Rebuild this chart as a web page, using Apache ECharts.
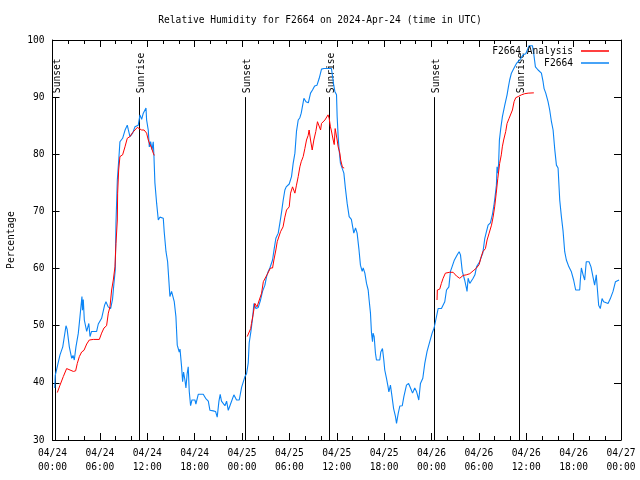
<!DOCTYPE html>
<html>
<head>
<meta charset="utf-8">
<script src="https://cdn.jsdelivr.net/npm/echarts@6/dist/echarts.min.js"></script>
<style>html,body{margin:0;padding:0;background:#fff}#c{width:640px;height:480px}</style>
</head>
<body>
<div id="c"></div>
<script>
// Hours since 2024-04-24 00:00 UTC
const xTickLabels = ['04/24\n00:00','04/24\n06:00','04/24\n12:00','04/24\n18:00','04/25\n00:00','04/25\n06:00','04/25\n12:00','04/25\n18:00','04/26\n00:00','04/26\n06:00','04/26\n12:00','04/26\n18:00','04/27\n00:00'];

const stationHours = [0.28,0.35,0.95,1.3,1.71,1.85,2.13,2.43,2.6,2.76,2.97,3.27,3.48,3.73,3.8,3.9,4.03,4.33,4.6,4.75,4.95,5.59,5.8,6.22,6.6,6.77,7.05,7.36,7.6,7.78,7.95,8.04,8.21,8.42,8.54,8.88,9.18,9.47,9.6,9.81,10.15,10.44,10.86,11.08,11.29,11.5,11.71,11.84,11.92,12.13,12.26,12.43,12.6,12.76,12.85,12.97,13.19,13.4,13.6,14.03,14.15,14.37,14.58,14.79,14.87,15.08,15.29,15.42,15.63,15.8,16.05,16.15,16.35,16.48,16.6,16.77,16.9,17.05,17.19,17.32,17.49,17.66,17.85,18.04,18.16,18.46,19.09,19.39,19.73,19.94,20.15,20.36,20.65,20.86,21.08,21.24,21.4,21.84,22.05,22.26,22.47,22.97,23.31,23.65,23.95,24.37,24.58,24.79,24.91,25.13,25.34,25.51,25.76,26.06,26.35,26.6,26.9,27.11,27.32,27.53,27.87,28.08,28.29,28.59,28.8,29.0,29.22,29.43,29.6,29.98,30.27,30.48,30.7,30.9,31.12,31.33,31.5,31.84,32.1,32.4,32.68,32.93,33.2,33.5,33.78,34.07,34.37,35.33,35.55,35.63,35.76,35.97,36.05,36.18,36.3,36.47,36.7,36.9,37.1,37.32,37.57,37.66,37.85,38.16,38.38,38.58,38.8,39.0,39.22,39.35,39.56,39.77,39.98,40.1,40.27,40.4,40.53,40.6,40.74,40.9,41.03,41.45,41.58,41.79,41.96,42.08,42.3,42.5,42.6,42.8,43.0,43.2,43.44,43.57,43.78,43.99,44.3,44.5,44.83,45.1,45.34,45.6,45.88,46.1,46.39,46.6,46.9,47.15,47.44,47.78,48.08,48.33,48.54,48.84,49.26,49.47,49.68,49.9,50.2,50.4,50.6,50.87,51.08,51.3,51.5,51.67,51.9,52.0,52.2,52.43,52.5,52.64,52.85,53.06,53.27,53.5,53.7,53.9,54.1,54.32,54.5,54.75,54.96,55.17,55.46,55.72,55.9,56.05,56.22,56.3,56.4,56.5,56.6,56.77,56.98,57.28,57.57,57.74,57.9,58.12,58.42,58.76,59.18,59.6,59.94,60.36,60.78,60.95,61.16,61.5,61.92,62.13,62.26,62.47,62.76,62.97,63.19,63.4,63.6,63.82,64.03,64.24,64.45,64.66,64.87,65.08,65.4,65.7,66.0,66.26,66.77,66.85,66.98,67.2,67.4,67.6,67.95,68.2,68.45,68.66,68.87,69.0,69.17,69.38,69.6,69.8,70.05,70.36,70.65,70.99,71.3,71.75];
const stationRH = [39.1,41.3,44.9,46.3,50.0,49.4,46.3,44.3,44.8,44.0,46.3,48.7,51.6,55.1,52.7,54.6,51.0,49.0,50.4,48.1,49.0,49.0,50.3,51.3,53.6,54.2,53.3,53.0,54.6,57.4,59.8,68.0,75.5,79.6,82.2,82.8,84.2,85.1,84.3,83.1,83.7,84.8,85.1,86.9,86.1,87.2,87.5,88.1,86.0,84.2,81.3,82.2,80.8,82.2,79.6,75.0,71.4,68.5,69.0,68.8,66.4,63.0,61.2,56.8,55.1,56.0,56.0,54.2,51.6,46.6,45.4,45.9,42.8,40.2,41.9,40.5,39.1,41.6,42.8,38.5,36.0,37.0,36.8,37.0,36.3,38.0,38.0,37.3,36.8,35.2,35.5,35.1,35.0,34.0,36.8,38.0,36.8,36.0,36.8,35.2,36.0,37.9,37.0,37.0,39.2,41.1,41.6,43.5,47.0,49.0,51.3,53.9,53.0,53.2,54.5,56.0,57.1,58.6,59.5,60.1,61.5,63.5,65.3,66.2,68.0,69.8,72.0,73.75,74.3,74.8,76.1,78.4,80.2,84.0,86.0,86.4,87.2,89.8,89.2,89.0,90.7,91.25,91.95,92.1,93.3,94.9,95.0,95.0,95.0,92.0,91.0,90.4,86.6,83.1,80.75,78.4,78.2,76.7,74.0,71.4,69.1,68.8,68.6,66.2,67.1,66.2,63.5,60.6,59.5,60.1,59.2,57.4,56.25,54.5,52.2,48.7,47.2,48.7,48.1,45.2,44.0,44.0,45.4,46.0,44.0,42.25,40.8,39.3,38.4,39.6,37.6,35.5,34.1,32.9,34.6,35.95,36.0,37.6,39.6,39.9,39.1,38.2,39.1,38.5,37.0,39.9,40.8,43.4,45.5,47.2,48.7,49.6,51.0,53.0,53.0,53.0,54.2,56.25,56.8,59.5,60.3,61.4,61.5,62.5,62.95,62.4,59.5,59.8,58.0,56.55,56.0,58.3,57.4,57.7,58.3,58.9,60.3,60.3,61.2,62.1,62.7,65.3,66.45,67.6,68.0,69.5,71.0,72.6,74.6,77.8,76.7,78.4,82.5,84.5,86.6,88.6,90.4,91.8,93.0,94.2,95.0,95.9,96.5,97.4,97.6,99.0,99.0,97.6,95.3,94.75,94.2,92.7,91.5,90.7,89.2,87.75,85.7,84.25,81.0,78.1,77.6,72.0,69.1,66.6,62.95,61.5,60.3,59.5,58.0,56.25,56.25,58.0,60.1,58.9,58.0,61.2,61.2,60.3,60.1,57.1,58.9,56.55,53.6,53.0,54.75,54.2,53.9,53.9,54.75,56.0,57.7,58.0];

// Analysis: three separate runs (null = gap)
const analysisHours = [0.61,0.95,1.37,1.79,2.22,2.64,2.93,3.14,3.4,3.69,3.99,4.33,4.66,5.17,5.93,6.22,6.52,6.85,7.07,7.28,7.49,7.7,7.91,8.04,8.21,8.25,8.38,8.54,8.88,9.18,9.47,9.81,10.15,10.44,10.74,10.99,11.29,11.6,11.92,12.13,12.34,12.55,12.76,12.89,
  18.0,
  24.66,24.87,25.1,25.2,25.4,25.63,25.9,26.19,26.48,26.7,26.9,27.2,27.45,27.6,27.87,28.04,28.29,28.46,28.71,28.88,29.2,29.43,29.64,29.98,30.15,30.4,30.7,30.9,31.12,31.33,31.5,31.75,31.96,32.17,32.38,32.5,32.68,32.89,33.1,33.35,33.56,33.78,33.95,34.07,34.28,34.5,34.7,34.9,35.04,35.2,35.3,35.55,35.68,35.8,35.97,36.05,36.18,36.39,36.5,36.73,36.94,
  42.0,
  48.7,48.74,49.04,49.25,49.47,49.76,50.3,50.74,51.16,51.58,52.0,52.4,52.85,53.27,53.7,54.03,54.24,54.5,54.83,55.04,55.3,55.6,55.8,56.0,56.2,56.4,56.63,56.84,56.97,57.14,57.4,57.57,57.83,58.0,58.25,58.46,58.67,58.97,59.39,59.8,60.24,60.96];
const analysisRH = [38.3,39.6,41.1,42.5,42.25,42.0,42.1,43.4,44.6,45.4,45.7,46.8,47.5,47.6,47.6,48.7,49.6,50.0,52.2,53.3,56.25,58.0,60.3,64.4,68.5,73.2,77.25,79.6,79.9,81.3,82.8,83.1,83.8,84.25,84.7,84.8,84.25,84.25,83.7,82.5,81.7,81.1,80.2,79.8,
  null,
  48.1,48.4,49.5,50.4,51.9,53.9,53.3,54.5,55.7,57.7,58.0,59.0,59.1,60.1,60.1,61.5,63.25,64.7,65.0,66.45,67.3,69.0,70.25,70.8,73.2,74.3,73.2,74.6,76.1,77.8,78.7,79.6,81.0,82.5,83.3,84.25,82.5,80.75,82.5,84.0,85.7,86.0,84.25,85.4,85.4,86.0,86.3,86.9,86.3,84.8,84.25,82.5,81.7,84.5,84.25,82.5,81.3,80.2,79.0,77.7,77.6,
  null,
  54.5,56.25,56.4,57.4,58.3,59.2,59.35,59.35,58.7,58.3,58.8,58.9,59.1,59.6,60.1,60.7,61.8,62.95,63.5,65.0,66.2,67.6,69.0,70.8,73.2,75.8,78.4,79.9,81.3,82.5,84.0,85.4,86.3,86.6,87.75,89.2,89.9,90.1,90.4,90.6,90.7,90.75];

const eventHours = [0.33, 10.97, 24.38, 35.03, 48.35, 59.12];
const eventNames = ['Sunset','Sunrise','Sunset','Sunrise','Sunset','Sunrise'];

const FONT = 'DejaVu Sans Mono';
const FS = 9.6;
const RED = '#ff0000';
const BLUE = '#0a84f5';

const chart = echarts.init(document.getElementById('c'), null, {renderer:'canvas'});
const stationData = stationHours.map((h,i)=>[h, stationRH[i]]);
const analysisData = analysisHours.map((h,i)=>[h, analysisRH[i]]);
const eventData = eventHours.map(h=>[h]);

const xCommon = {
  type:'value', min:0, max:72, interval:6,
  axisLine:{show:true, onZero:false, lineStyle:{color:'#000', width:1}},
  axisTick:{show:true, inside:true, length:7, lineStyle:{color:'#000'}},
  minorTick:{show:true, splitNumber:3, length:4, lineStyle:{color:'#000'}},
  splitLine:{show:false}
};
const yCommon = {
  type:'value', min:30, max:100, interval:10,
  axisLine:{show:true, onZero:false, lineStyle:{color:'#000', width:1}},
  axisTick:{show:true, inside:true, length:7, lineStyle:{color:'#000'}},
  splitLine:{show:false}
};

chart.setOption({
  animation:false,
  backgroundColor:'#fff',
  title:{text:'Relative Humidity for F2664 on 2024-Apr-24 (time in UTC)', left:'center', top:10,
    textStyle:{fontFamily:FONT, fontSize:FS, fontWeight:'normal', color:'#000'}},
  grid:{left:52.5, right:19, top:40, bottom:40, containLabel:false, outerBoundsMode:'none'},
  legend:[
    {data:[{name:'F2664 Analysis', itemStyle:{color:RED}}], right:31, top:46, padding:0, align:'right', icon:'rect', itemWidth:28, itemHeight:1.5,
      textStyle:{fontFamily:FONT, fontSize:FS, color:'#000', padding:[0,3,0,0]}},
    {data:[{name:'F2664', itemStyle:{color:BLUE}}], right:31, top:58, padding:0, align:'right', icon:'rect', itemWidth:28, itemHeight:1.5,
      textStyle:{fontFamily:FONT, fontSize:FS, color:'#000', padding:[0,3,0,0]}}
  ],
  xAxis:[
    Object.assign({}, xCommon, {position:'bottom',
      axisLabel:{color:'#000', fontFamily:FONT, fontSize:FS, lineHeight:14, margin:6,
        formatter:function(v){return xTickLabels[Math.round(v/6)];}}}),
    Object.assign({}, xCommon, {position:'top', axisLabel:{show:false}})
  ],
  yAxis:[
    Object.assign({}, yCommon, {position:'left', name:'Percentage', nameLocation:'middle', nameGap:36, nameRotate:90,
      nameTextStyle:{fontFamily:FONT, fontSize:FS, color:'#000'},
      axisLabel:{color:'#000', fontFamily:FONT, fontSize:FS, margin:8}}),
    Object.assign({}, yCommon, {position:'right', axisLabel:{show:false}})
  ],
  series:[
    {type:'custom', name:'events', xAxisIndex:0, yAxisIndex:0, data:eventData, silent:true, z:1,
      renderItem:function(params, api){
        const h = api.value(0);
        const p0 = api.coord([h, 30]);
        const p1 = api.coord([h, 90]);
        const x = Math.round(p0[0]) + 0.5;
        return {type:'group', children:[
          {type:'line', shape:{x1:x, y1:p0[1], x2:x, y2:p1[1]}, style:{stroke:'#000', lineWidth:1}},
          {type:'text', x:x+1.5, y:p1[1]-4, rotation:Math.PI/2,
            style:{text:eventNames[params.dataIndex], fontFamily:FONT, fontSize:FS, fill:'#000', align:'left', verticalAlign:'middle'}}
        ]};
      }},
    {type:'line', name:'F2664 Analysis', data:analysisData, showSymbol:false, symbol:'none', connectNulls:false,
      lineStyle:{color:RED, width:1}, itemStyle:{color:RED}, z:3},
    {type:'line', name:'F2664', data:stationData, showSymbol:false, symbol:'none',
      lineStyle:{color:BLUE, width:1.1}, itemStyle:{color:BLUE}, z:2}
  ]
});
</script>
</body>
</html>
